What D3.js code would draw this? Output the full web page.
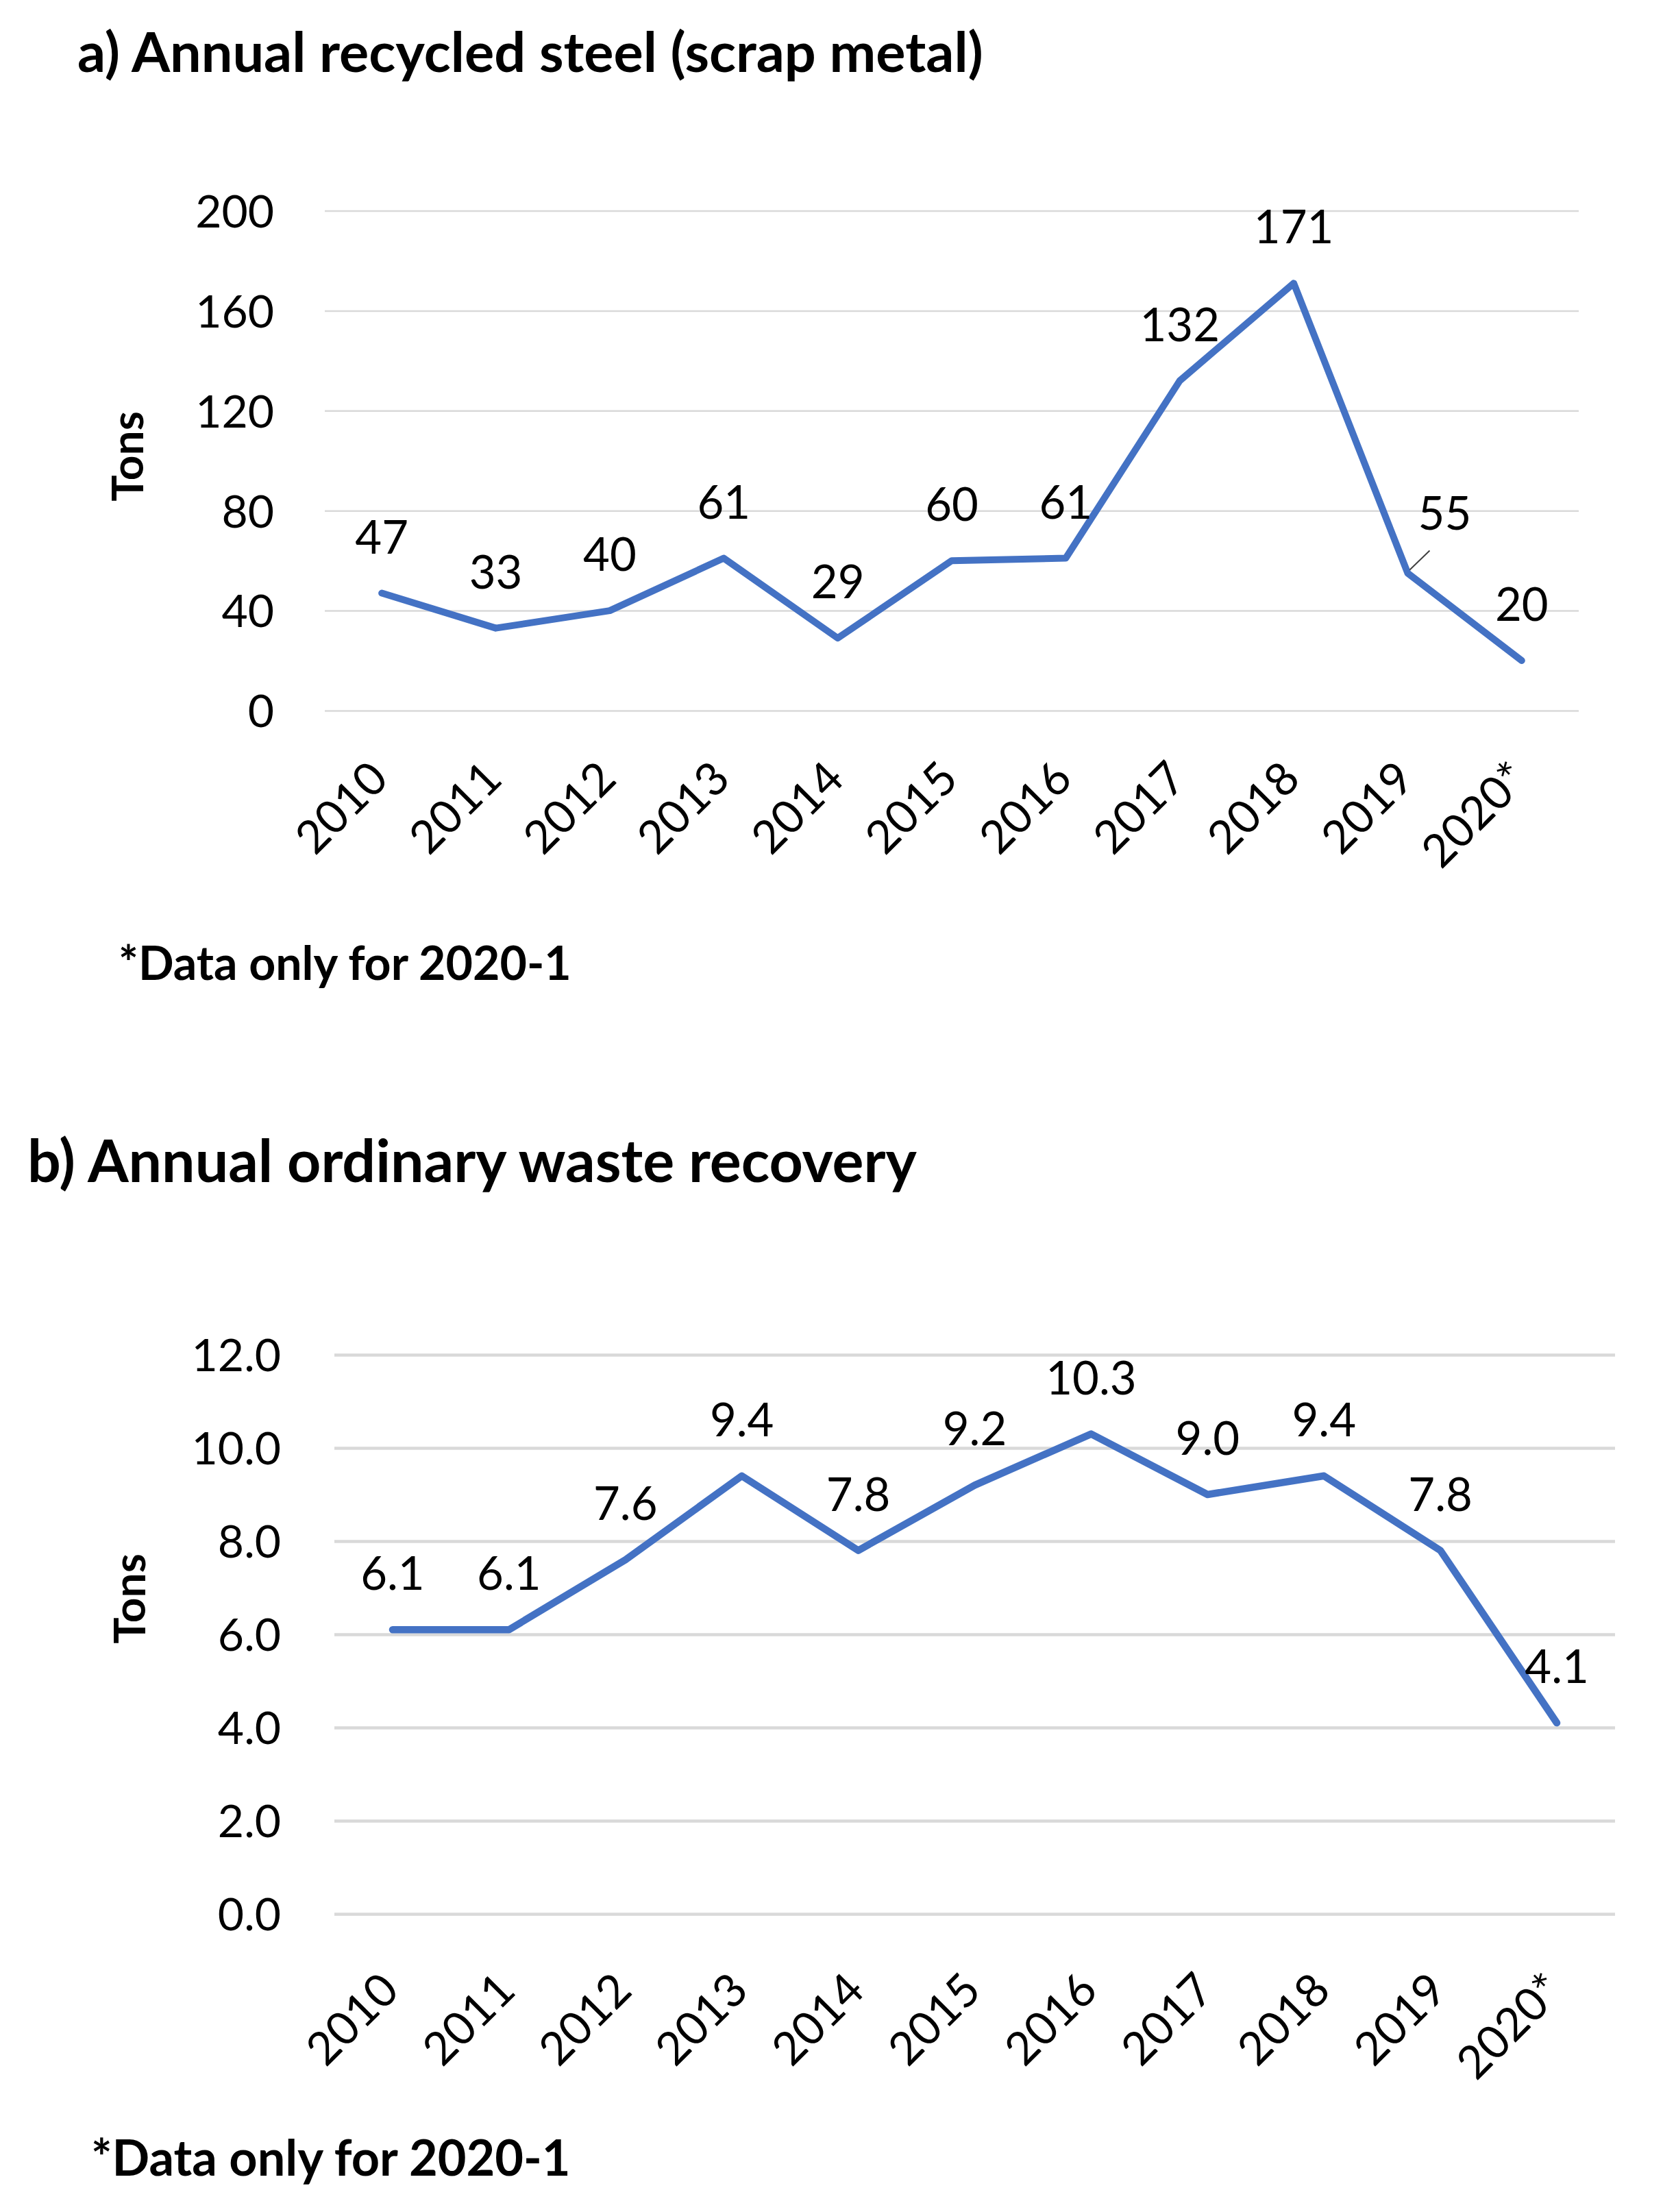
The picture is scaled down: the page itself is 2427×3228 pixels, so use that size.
<!DOCTYPE html>
<html>
<head>
<meta charset="utf-8">
<script src="https://cdn.jsdelivr.net/npm/d3@7"></script>
<style>
  body { margin: 0; background: #fff; }
  text { font-family: Lato, "Open Sans", sans-serif; }
</style>
</head>
<body>
<div id="chart"></div>
<script>
// data
var years = ["2010", "2011", "2012", "2013", "2014", "2015", "2016", "2017", "2018", "2019", "2020*"];
var steelTons = [47, 33, 40, 61, 29, 60, 61, 132, 171, 55, 20];
var steelTicks = [0, 40, 80, 120, 160, 200];
var wasteTons = [6.1, 6.1, 7.6, 9.4, 7.8, 9.2, 10.3, 9.0, 9.4, 7.8, 4.1];
var wasteTicks = [0, 2, 4, 6, 8, 10, 12];

var width = 2427,
    height = 3228;

var svg = d3.select("#chart").append("svg")
    .attr("width", width)
    .attr("height", height);

svg.append("rect")
    .attr("width", width)
    .attr("height", height)
    .attr("fill", "#fff");

var blue = "#4472C4";

function drawPanel(p) {
    var g = svg.append("g");

    var x = d3.scalePoint()
        .domain(years)
        .range([p.left, p.right])
        .padding(0.5);

    var y = d3.scaleLinear()
        .domain([0, d3.max(p.ticks)])
        .range([p.bottom, p.top]);

    // title
    g.append("text")
        .attr("x", p.titleX)
        .attr("y", p.titleY)
        .attr("font-size", p.titleSize)
        .attr("font-weight", "bold")
        .attr("fill", "#000")
        .text(p.title);

    // gridlines + y tick labels
    var yAxis = g.append("g")
        .attr("transform", "translate(" + p.left + ",0)")
        .call(d3.axisLeft(y)
            .tickValues(p.ticks)
            .tickSize(-(p.right - p.left))
            .tickPadding(p.tickPad)
            .tickFormat(p.fmt));
    yAxis.select(".domain").remove();
    yAxis.attr("font-size", 66).attr("font-family", "Lato, sans-serif");
    yAxis.selectAll(".tick line")
        .attr("stroke", "#d9d9d9")
        .attr("stroke-width", p.gridWidth);
    yAxis.selectAll(".tick text")
        .attr("fill", "#000")
        .attr("dy", "0.36em");

    // rotated year labels
    var xAxis = g.append("g")
        .attr("transform", "translate(0," + p.bottom + ")")
        .call(d3.axisBottom(x).tickSize(0));
    xAxis.select(".domain").remove();
    xAxis.attr("font-size", 67).attr("font-family", "Lato, sans-serif");
    xAxis.selectAll(".tick text")
        .attr("fill", "#000")
        .attr("x", null)
        .attr("y", null)
        .attr("dy", null)
        .attr("text-anchor", "end")
        .attr("transform", "translate(12," + p.xLabOffset + ") rotate(-45)");

    // y axis title
    g.append("text")
        .attr("transform", "translate(" + p.tonsX + "," + p.tonsY + ") rotate(-90)")
        .attr("text-anchor", "middle")
        .attr("font-size", 64)
        .attr("font-weight", "bold")
        .attr("fill", "#000")
        .text("Tons");

    // the series line
    var line = d3.line()
        .x(function(d, i) { return x(years[i]); })
        .y(function(d) { return y(d); });

    g.append("path")
        .datum(p.values)
        .attr("d", line)
        .attr("fill", "none")
        .attr("stroke", blue)
        .attr("stroke-width", p.lineWidth)
        .attr("stroke-linejoin", "round")
        .attr("stroke-linecap", "round");

    // data labels above the points
    g.selectAll(".dlabel")
        .data(p.values)
        .join("text")
        .attr("class", "dlabel")
        .attr("x", function(d, i) {
            var n = (p.nudge && p.nudge.index === i) ? p.nudge.dx : 0;
            return x(years[i]) + n;
        })
        .attr("y", function(d, i) {
            var n = (p.nudge && p.nudge.index === i) ? p.nudge.dy : 0;
            return y(d) - 58 + n;
        })
        .attr("text-anchor", "middle")
        .attr("font-size", 67)
        .attr("fill", "#000")
        .text(function(d) { return p.fmt(d); });

    // leader line for the moved label
    if (p.nudge) {
        var px = x(years[p.nudge.index]),
            py = y(p.values[p.nudge.index]);
        g.append("line")
            .attr("x1", px + 3).attr("y1", py - 5)
            .attr("x2", px + 32).attr("y2", py - 33)
            .attr("stroke", "#404040")
            .attr("stroke-width", 2);
    }

    // footnote
    g.append("text")
        .attr("x", p.noteX)
        .attr("y", p.noteY)
        .attr("font-size", p.noteSize)
        .attr("font-weight", "bold")
        .attr("fill", "#000")
        .text("*Data only for 2020-1");
}

drawPanel({
    title: "a) Annual recycled steel (scrap metal)",
    titleX: 113, titleY: 105, titleSize: 81,
    values: steelTons,
    ticks: steelTicks,
    fmt: d3.format("d"),
    left: 474, right: 2304,
    top: 307.6, bottom: 1037,
    tickPad: 74,
    gridWidth: 2.5,
    lineWidth: 10,
    xLabOffset: 103,
    tonsX: 209, tonsY: 666,
    noteX: 173, noteY: 1430, noteSize: 68,
    nudge: { index: 9, dx: 54, dy: -5 }
});

drawPanel({
    title: "b) Annual ordinary waste recovery",
    titleX: 40, titleY: 1725, titleSize: 86,
    values: wasteTons,
    ticks: wasteTicks,
    fmt: d3.format(".1f"),
    left: 488, right: 2357,
    top: 1977, bottom: 2793,
    tickPad: 78,
    gridWidth: 4.5,
    lineWidth: 10.5,
    xLabOffset: 115,
    tonsX: 212, tonsY: 2333,
    noteX: 133, noteY: 3175, noteSize: 72
});
</script>
</body>
</html>
